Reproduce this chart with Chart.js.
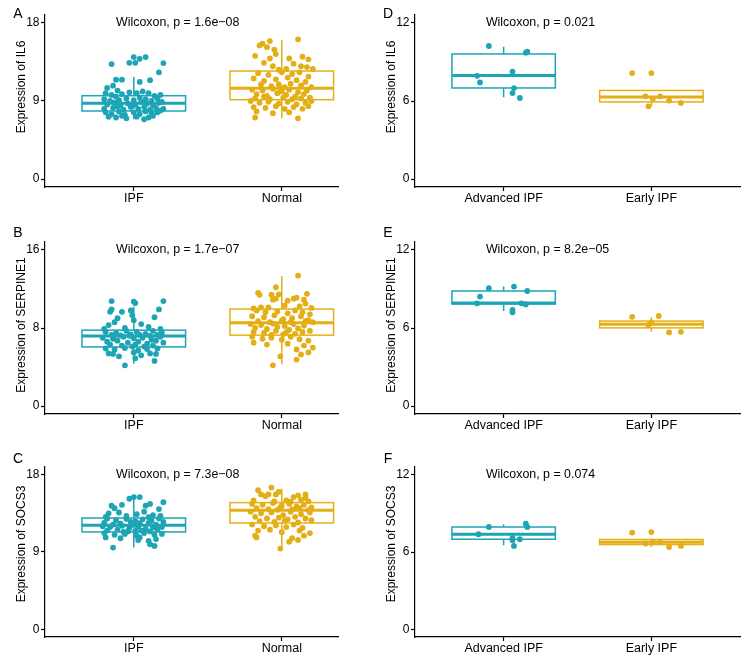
<!DOCTYPE html>
<html>
<head>
<meta charset="utf-8">
<script src="https://cdn.jsdelivr.net/npm/chart.js@4.4.1/dist/chart.umd.min.js"></script>
<style>
  body { margin: 0; background: #fff; }
  canvas { position: absolute; }
</style>
</head>
<body>
<canvas id="chartA" width="340" height="209" style="left:0;top:0"></canvas>
<canvas id="chartB" width="340" height="209" style="left:0;top:227px"></canvas>
<canvas id="chartC" width="340" height="207" style="left:0;top:452px"></canvas>
<canvas id="chartD" width="373" height="209" style="left:370px;top:0"></canvas>
<canvas id="chartE" width="373" height="209" style="left:370px;top:227px"></canvas>
<canvas id="chartF" width="373" height="207" style="left:370px;top:452px"></canvas>
<script>
// groups on the x axis
const tissueGroups = ['IPF', 'Normal'];
const stageGroups = ['Advanced IPF', 'Early IPF'];

// y ticks
const ticks18 = [0, 9, 18];
const ticks16 = [0, 8, 16];
const ticks12 = [0, 6, 12];

// box stats: [lower whisker, q1, median, q3, upper whisker]
const il6TissueBoxes = [[6.9, 7.85, 8.74, 9.61, 11.76], [7.0, 9.15, 10.46, 12.45, 16.0]];
const serpine1TissueBoxes = [[4.36, 6.06, 7.19, 7.78, 10.17], [4.29, 7.27, 8.53, 9.94, 13.33]];
const socs3TissueBoxes = [[9.52, 11.34, 12.11, 12.96, 15.4], [9.33, 12.38, 13.86, 14.75, 16.38]];
const il6StageBoxes = [[6.28, 7.0, 7.96, 9.61, 10.17], [5.59, 5.93, 6.31, 6.81, 6.81]];
const serpine1StageBoxes = [[7.3, 7.84, 7.92, 8.84, 9.18], [5.71, 6.01, 6.28, 6.53, 6.82]];
const socs3StageBoxes = [[6.52, 6.99, 7.38, 7.94, 8.15], [6.39, 6.58, 6.76, 6.97, 7.0]];

// points: [jitter offset, expression]
const il6TissueIpf = [[0.00,14.06],[0.04,13.86],[0.08,14.06],[-0.15,13.25],[-0.03,13.4],[0.01,13.4],[0.20,13.37],[0.17,12.3],[-0.12,11.45],[-0.08,11.45],[0.04,11.2],[0.11,11.4],[-0.18,10.5],[-0.14,10.76],[-0.11,10.2],
  [-0.19,9.9],[-0.15,9.7],[-0.12,9.5],[-0.08,9.8],[-0.03,10.0],[0.02,9.9],[0.06,10.1],[0.10,9.9],[0.14,9.6],[0.18,9.7],
  [-0.20,9.2],[-0.16,9.0],[-0.10,9.1],[-0.05,9.3],[0.00,9.1],[0.04,9.4],[0.08,9.2],[0.12,9.0],[0.16,9.3],[0.19,8.9],
  [-0.18,8.6],[-0.13,8.8],[-0.09,8.5],[-0.04,8.7],[0.01,8.6],[0.05,8.9],[0.09,8.7],[0.13,8.5],[0.17,8.8],[-0.01,8.4],
  [-0.20,8.1],[-0.14,8.2],[-0.07,8.0],[-0.02,8.3],[0.03,8.1],[0.07,8.3],[0.11,8.0],[0.15,8.2],[0.20,8.1],[-0.11,8.4],
  [-0.19,7.7],[-0.15,7.5],[-0.10,7.8],[-0.06,7.4],[0.00,7.7],[0.04,7.5],[0.08,7.8],[0.12,7.6],[0.16,7.7],[0.18,7.9],
  [-0.17,7.2],[-0.12,7.1],[-0.05,7.0],[0.02,7.2],[0.07,6.9],[0.13,7.3],[-0.08,7.3],[0.10,7.1]];
const il6TissueNormal = [[0.11,16.1],[-0.08,15.9],[-0.15,15.4],[-0.13,15.6],[-0.10,15.2],[-0.05,14.9],[-0.04,14.4],[-0.08,13.9],[-0.18,14.2],[0.05,13.9],[0.14,14.1],[0.18,13.8],[0.08,13.3],[0.13,13.0],[0.17,12.9],[-0.12,13.4],[-0.06,13.0],[0.03,12.7],[0.21,12.7],[-0.02,12.6],
  [-0.16,12.2],[-0.09,12.0],[0.00,12.3],[0.07,12.1],[0.12,12.3],[0.18,11.8],[-0.19,11.6],[-0.12,11.3],[-0.04,11.5],[0.04,11.7],[0.10,11.4],[0.16,11.2],[-0.14,10.9],[-0.07,10.7],[-0.02,10.9],[0.02,10.6],[0.06,11.0],[0.13,10.8],[0.20,10.6],[-0.01,10.5],
  [-0.20,10.3],[-0.13,10.2],[-0.06,10.4],[0.00,10.1],[0.05,10.3],[0.11,10.0],[0.17,10.2],[-0.17,9.8],[-0.10,9.6],[-0.03,9.9],[0.03,9.7],[0.09,9.5],[0.15,9.8],[0.19,9.4],[-0.18,9.3],[-0.08,9.2],[0.01,9.4],[0.07,9.2],[0.13,9.3],[-0.12,9.5],
  [-0.21,9.0],[-0.15,8.8],[-0.09,8.9],[-0.02,8.7],[0.04,8.9],[0.10,8.6],[0.16,8.8],[0.20,9.0],[-0.19,8.3],[-0.11,8.2],[-0.04,8.4],[0.02,8.1],[0.08,8.3],[0.14,8.1],[0.18,8.4],[-0.17,7.8],[-0.06,7.6],[0.05,7.7],[-0.18,7.1],[0.11,7.0]];

const serpine1TissueIpf = [[-0.15,10.76],[0.00,10.7],[0.01,10.55],[0.20,10.76],[-0.15,9.9],[-0.16,9.66],[-0.08,9.66],[-0.02,9.8],[-0.01,9.3],[0.00,8.8],[0.17,9.9],[-0.11,9.0],[-0.13,8.6],[0.14,9.1],[-0.17,8.3],[0.05,8.4],[0.10,8.1],[-0.06,8.0],[0.18,7.9],[-0.20,7.9],
  [-0.19,7.6],[-0.12,7.5],[-0.05,7.7],[0.02,7.6],[0.08,7.4],[0.13,7.7],[0.19,7.5],[-0.15,7.3],[-0.09,7.25],[-0.02,7.35],[0.04,7.3],[0.11,7.2],[0.16,7.3],[-0.03,7.2],
  [-0.21,7.0],[-0.14,6.9],[-0.07,7.1],[0.00,6.95],[0.06,7.0],[0.12,6.8],[0.18,7.1],[-0.18,6.6],[-0.11,6.7],[-0.04,6.5],[0.03,6.6],[0.09,6.4],[0.15,6.7],[0.20,6.5],[-0.16,6.3],[-0.08,6.2],[0.01,6.3],[0.07,6.1],[0.13,6.2],[-0.01,6.1],
  [-0.19,5.9],[-0.13,5.8],[-0.06,5.95],[0.03,5.7],[0.09,5.85],[0.16,5.9],[-0.17,5.4],[-0.14,5.35],[0.00,5.5],[0.05,5.2],[0.11,5.4],[0.15,5.35],[0.01,4.9],[0.14,4.63],[-0.06,4.18],[-0.10,5.1]];
const serpine1TissueNormal = [[0.11,13.36],[-0.04,12.17],[-0.16,11.6],[-0.15,11.4],[-0.07,11.4],[-0.02,11.45],[-0.04,11.0],[-0.06,10.9],[0.17,11.5],[0.08,11.0],[0.10,11.1],[0.04,10.8],[0.15,10.9],[0.16,10.5],[-0.14,10.1],[-0.09,10.1],[0.02,10.3],[0.12,10.2],[-0.19,10.0],[0.20,10.05],
  [-0.17,9.8],[-0.11,9.6],[-0.03,9.7],[0.04,9.5],[0.09,9.8],[0.14,9.6],[0.19,9.4],[-0.20,9.2],[-0.12,9.1],[-0.05,9.3],[0.01,8.9],[0.07,9.0],[0.13,9.2],[0.18,8.8],[-0.16,8.7],[-0.08,8.6],[0.00,8.75],[0.06,8.6],[0.16,8.7],[0.21,8.6],
  [-0.21,8.4],[-0.14,8.3],[-0.06,8.45],[0.02,8.2],[0.08,8.4],[0.15,8.25],[-0.18,8.0],[-0.10,7.9],[-0.03,8.1],[0.05,7.8],[0.11,7.95],[0.19,7.7],[-0.19,7.6],[-0.12,7.5],[-0.04,7.7],[0.03,7.55],[0.09,7.4],[0.14,7.6],[-0.07,7.3],[0.01,7.35],
  [-0.20,7.1],[-0.13,6.9],[-0.07,7.0],[0.00,6.8],[0.06,7.1],[0.12,6.85],[0.18,6.7],[-0.19,6.5],[-0.10,6.3],[0.04,6.4],[0.15,6.2],[0.21,6.0],[0.10,5.8],[0.18,5.5],[0.13,5.3],[-0.01,5.1],[0.10,4.77],[-0.06,4.18]];

const socs3TissueIpf = [[0.00,15.4],[0.04,15.4],[-0.03,15.2],[-0.15,14.4],[-0.08,14.5],[-0.13,14.1],[0.08,14.4],[0.11,14.6],[0.20,14.8],[0.17,14.0],[0.07,13.7],[-0.17,13.5],[-0.10,13.6],[0.02,13.4],[0.13,13.3],[-0.05,13.2],[-0.19,13.1],[0.10,13.05],[0.18,13.2],
  [-0.18,12.9],[-0.12,12.7],[-0.05,12.85],[0.01,12.6],[0.06,12.8],[0.12,12.65],[0.17,12.9],[-0.20,12.4],[-0.09,12.3],[-0.02,12.5],[0.04,12.35],[0.10,12.4],[0.15,12.2],[0.20,12.5],[-0.14,12.2],[0.00,12.15],
  [-0.21,12.0],[-0.16,11.9],[-0.08,12.05],[-0.03,11.8],[0.03,11.95],[0.08,11.7],[0.13,11.85],[0.19,11.9],[-0.18,11.5],[-0.11,11.6],[-0.04,11.4],[0.05,11.5],[0.11,11.4],[0.16,11.6],[-0.07,11.35],[0.01,11.45],
  [-0.20,11.2],[-0.13,11.0],[-0.06,11.1],[0.02,10.9],[0.07,11.2],[0.14,11.0],[0.19,11.1],[-0.19,10.7],[-0.09,10.6],[0.03,10.4],[0.04,10.7],[0.10,10.3],[0.15,10.5],[0.11,9.9],[0.14,9.7],[-0.14,9.52]];
const socs3TissueNormal = [[-0.07,16.5],[-0.16,16.2],[-0.14,15.7],[-0.09,15.7],[-0.11,15.5],[-0.02,16.0],[-0.04,15.7],[0.08,15.4],[0.11,15.6],[0.16,15.7],[0.16,15.3],[0.18,14.9],[0.13,15.1],[-0.19,15.0],[0.03,15.0],[-0.05,14.9],[0.06,14.85],
  [-0.20,14.6],[-0.13,14.5],[-0.06,14.7],[0.00,14.4],[0.05,14.6],[0.10,14.3],[0.15,14.5],[0.20,14.2],[-0.17,14.1],[-0.09,14.0],[-0.01,14.2],[0.07,13.95],[0.12,14.1],[0.18,13.9],[-0.03,13.9],
  [-0.21,13.7],[-0.14,13.5],[-0.07,13.6],[0.01,13.3],[0.06,13.7],[0.13,13.4],[0.19,13.6],[-0.18,13.1],[-0.10,12.9],[-0.02,13.0],[0.04,12.8],[0.09,13.1],[0.16,12.9],[-0.15,12.6],[-0.05,12.5],[0.02,12.65],[0.11,12.45],[0.20,12.7],
  [-0.20,12.2],[-0.12,12.0],[-0.04,12.1],[0.03,11.9],[0.08,12.2],[0.14,11.8],[-0.16,11.5],[-0.08,11.6],[0.00,11.3],[0.12,11.5],[0.19,11.2],[-0.18,10.9],[-0.17,10.7],[0.07,10.6],[0.11,10.4],[0.15,10.9],[0.05,10.2],[-0.01,9.4]];

const il6StageAdvanced = [[-0.10,10.22],[0.15,9.71],[0.16,9.79],[-0.18,7.93],[-0.16,7.42],[0.06,8.26],[0.07,6.99],[0.06,6.61],[0.11,6.23]];
const il6StageEarly = [[-0.13,8.14],[0.00,8.14],[-0.04,6.36],[0.01,6.18],[0.06,6.36],[-0.02,5.59],[0.12,6.03],[0.20,5.85]];
const serpine1StageAdvanced = [[-0.10,9.05],[0.07,9.18],[0.16,8.84],[-0.16,8.41],[-0.18,7.89],[0.12,7.89],[0.15,7.81],[0.06,7.38],[0.06,7.2]];
const serpine1StageEarly = [[-0.13,6.86],[0.05,6.92],[0.00,6.43],[-0.02,6.22],[0.12,5.66],[0.20,5.71]];
const socs3StageAdvanced = [[-0.10,7.94],[0.15,8.2],[0.16,7.94],[-0.17,7.38],[0.06,7.09],[0.06,6.91],[0.11,6.99],[0.07,6.47]];
const socs3StageEarly = [[-0.13,7.51],[0.00,7.55],[0.01,6.78],[-0.04,6.66],[0.06,6.78],[0.12,6.39],[0.20,6.47]];

const teal = '#1DA5B6';
const gold = '#E4AF16';
const fontFamily = '"Liberation Sans", Arial, Helvetica, sans-serif';
const boxWidth = 0.7;

// draws boxplots from the stats arrays using the chart scales
const boxPlugin = (boxes, colors) => ({
  id: 'boxes',
  afterDatasetsDraw(chart) {
    const { ctx, scales: { x, y } } = chart;
    boxes.forEach((b, i) => {
      const [lo, q1, med, q3, hi] = b;
      const cx = x.getPixelForValue(i + 1);
      const left = x.getPixelForValue(i + 1 - boxWidth / 2);
      const right = x.getPixelForValue(i + 1 + boxWidth / 2);
      ctx.save();
      ctx.strokeStyle = colors[i];
      ctx.lineWidth = 1.5;
      ctx.beginPath();
      ctx.moveTo(cx, y.getPixelForValue(hi));
      ctx.lineTo(cx, y.getPixelForValue(q3));
      ctx.moveTo(cx, y.getPixelForValue(q1));
      ctx.lineTo(cx, y.getPixelForValue(lo));
      ctx.stroke();
      ctx.strokeRect(left, y.getPixelForValue(q3), right - left, y.getPixelForValue(q1) - y.getPixelForValue(q3));
      ctx.lineWidth = 3;
      ctx.beginPath();
      ctx.moveTo(left, y.getPixelForValue(med));
      ctx.lineTo(right, y.getPixelForValue(med));
      ctx.stroke();
      ctx.restore();
    });
  }
});

// panel letter, y title and the test label
const textPlugin = (p) => ({
  id: 'texts',
  afterDraw(chart) {
    const { ctx, chartArea, scales: { x, y } } = chart;
    ctx.save();
    ctx.fillStyle = '#000';
    ctx.textBaseline = 'middle';
    ctx.textAlign = 'center';
    ctx.font = '14px ' + fontFamily;
    ctx.fillText(p.letter, 18, p.letterY);

    ctx.font = '12px ' + fontFamily;
    ctx.save();
    ctx.translate(22, (chartArea.top + chartArea.bottom) / 2 + p.titleShift);
    ctx.rotate(-Math.PI / 2);
    ctx.fillText('Expression of ' + p.gene, 0, 0);
    ctx.restore();

    ctx.textAlign = 'left';
    ctx.font = '12.4px ' + fontFamily;
    ctx.fillText('Wilcoxon, p = ' + p.pValue, x.getPixelForValue(0.88), y.getPixelForValue(p.ticks[p.ticks.length - 1]));
    ctx.restore();
  }
});

const makePanel = (canvas, groups, sets, boxes, p) => {
  const colors = [teal, gold];
  const top = p.ticks[p.ticks.length - 1];
  const pad = top * 0.05;
  new Chart(document.getElementById(canvas), {
    type: 'scatter',
    data: {
      datasets: sets.map((set, i) => ({
        label: groups[i],
        data: set.map(([o, v]) => ({ x: i + 1 + o, y: v })),
        backgroundColor: colors[i],
        borderWidth: 0,
        pointRadius: 2.9,
        pointHoverRadius: 2.9
      }))
    },
    options: {
      responsive: false,
      animation: false,
      events: [],
      layout: { autoPadding: false, padding: { top: 15, left: 0, right: p.padRight, bottom: 0 } },
      plugins: { legend: { display: false }, tooltip: { enabled: false } },
      scales: {
        x: {
          type: 'linear',
          min: 0.4,
          max: p.xMax,
          afterBuildTicks: s => { s.ticks = groups.map((g, i) => ({ value: i + 1 })); },
          afterFit: s => { s.height = 22; },
          ticks: {
            callback: v => groups[Math.round(v) - 1],
            color: '#000',
            font: { size: 12.5, family: fontFamily },
            padding: 0,
            maxRotation: 0,
            autoSkip: false
          },
          grid: { display: true, drawOnChartArea: false, drawTicks: true, tickLength: 4, color: '#000', tickWidth: 1.2 },
          border: { display: true, color: '#000', width: 1.2 }
        },
        y: {
          min: -pad,
          max: top + pad,
          afterBuildTicks: s => { s.ticks = p.ticks.map(v => ({ value: v })); },
          afterFit: s => { s.width = 45; },
          ticks: {
            color: '#000',
            font: { size: 12, family: fontFamily },
            padding: 1.5
          },
          grid: { display: true, drawOnChartArea: false, drawTicks: true, tickLength: 4, color: '#000', tickWidth: 1.2 },
          border: { display: true, color: '#000', width: 1.2 }
        }
      }
    },
    plugins: [boxPlugin(boxes, colors), textPlugin(p)]
  });
};

makePanel('chartA', tissueGroups, [il6TissueIpf, il6TissueNormal], il6TissueBoxes,
  { letter: 'A', letterY: 14, gene: 'IL6', pValue: '1.6e\u221208', ticks: ticks18, xMax: 2.38, padRight: 2, titleShift: -14 });
makePanel('chartB', tissueGroups, [serpine1TissueIpf, serpine1TissueNormal], serpine1TissueBoxes,
  { letter: 'B', letterY: 6.5, gene: 'SERPINE1', pValue: '1.7e\u221207', ticks: ticks16, xMax: 2.38, padRight: 2, titleShift: -3 });
makePanel('chartC', tissueGroups, [socs3TissueIpf, socs3TissueNormal], socs3TissueBoxes,
  { letter: 'C', letterY: 7, gene: 'SOCS3', pValue: '7.3e\u221208', ticks: ticks18, xMax: 2.38, padRight: 2, titleShift: -8 });
makePanel('chartD', stageGroups, [il6StageAdvanced, il6StageEarly], il6StageBoxes,
  { letter: 'D', letterY: 14, gene: 'IL6', pValue: '0.021', ticks: ticks12, xMax: 2.6, padRight: 3, titleShift: -14 });
makePanel('chartE', stageGroups, [serpine1StageAdvanced, serpine1StageEarly], serpine1StageBoxes,
  { letter: 'E', letterY: 6.5, gene: 'SERPINE1', pValue: '8.2e\u221205', ticks: ticks12, xMax: 2.6, padRight: 3, titleShift: -3 });
makePanel('chartF', stageGroups, [socs3StageAdvanced, socs3StageEarly], socs3StageBoxes,
  { letter: 'F', letterY: 7, gene: 'SOCS3', pValue: '0.074', ticks: ticks12, xMax: 2.6, padRight: 3, titleShift: -8 });
</script>
</body>
</html>
